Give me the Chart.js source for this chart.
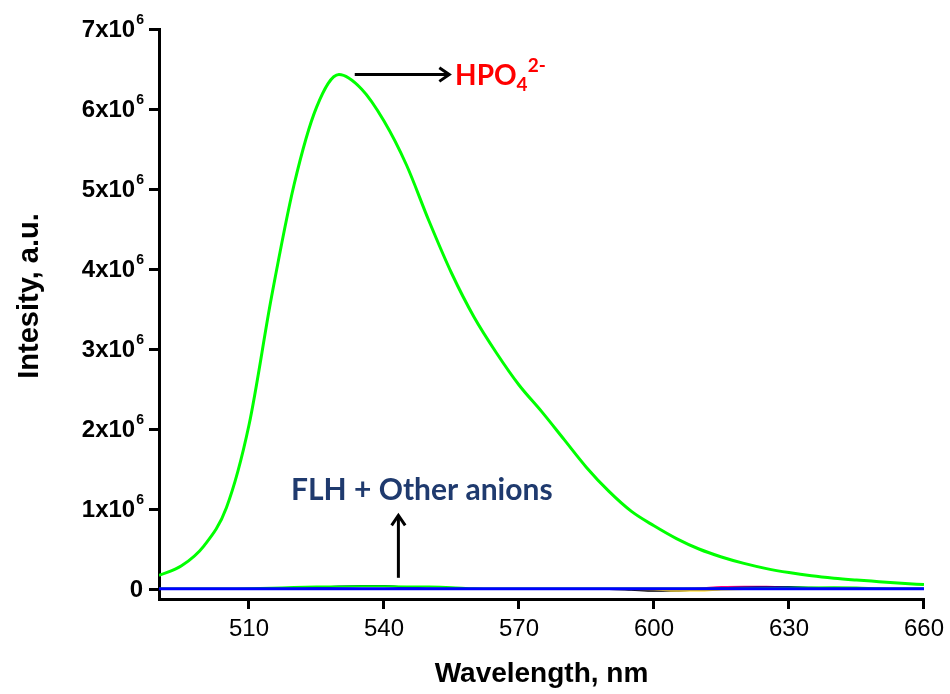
<!DOCTYPE html>
<html><head><meta charset="utf-8">
<script src="https://cdn.jsdelivr.net/npm/chart.js@4.4.1/dist/chart.umd.min.js"></script>
<style>html,body{margin:0;padding:0;background:#fff;}#wrap{width:950px;height:694px;}</style>
</head><body><div id="wrap"><canvas id="c" width="950" height="694"></canvas></div>
<script>
// ---- data (intensity in a.u.) ----
const wavelengths = [490,495,500,505,510,515,520,525,530,535,540,545,550,555,560,565,570,575,580,585,590,595,600,605,610,615,620,625,630,635,640,645,650,655,660];
const hpo4        = [170000,290000,540000,1020000,2050000,3650000,5050000,6020000,6430000,6250000,5850000,5300000,4600000,3950000,3400000,2950000,2550000,2220000,1870000,1520000,1220000,970000,790000,630000,500000,400000,320000,255000,205000,165000,135000,112000,92000,72000,55000];
const anionGreen  = [5000,5000,5000,5000,8000,15000,25000,30000,32000,33000,33000,32000,30000,22000,8000,5000,5000,5000,5000,5000,5000,5000,5000,5000,5000,5000,8000,12000,15000,20000,22000,20000,8000,5000,5000];
const anionNavy   = [0,0,0,0,0,0,5000,15000,30000,38000,36000,20000,5000,0,0,0,0,0,0,0,0,0,0,0,0,12000,20000,22000,25000,15000,5000,0,0,0,0];
const anionPink   = [0,0,0,0,0,0,0,0,0,0,0,0,0,0,0,0,0,0,0,0,0,0,0,0,5000,25000,28000,28000,20000,5000,0,0,0,0,0];
const anionYellow = [0,0,0,0,0,0,0,0,0,0,0,0,0,0,0,0,0,0,0,0,0,0,-5000,-18000,-18000,-5000,0,0,0,0,0,0,0,0,0];
const anionBlack  = [0,0,0,0,0,0,0,0,0,0,0,0,0,0,0,0,0,0,0,0,0,-10000,-22000,-20000,-8000,0,0,0,0,0,0,0,0,0,0];
const anionBlue   = [2000,2000,2000,2000,2000,2000,2000,2000,2000,2000,2000,2000,2000,2000,2000,2000,2000,2000,2000,2000,2000,2000,2000,2000,2000,2000,2000,2000,2000,2000,2000,2000,2000,2000,2000];
const xTickValues = [510,540,570,600,630,660];
const yTickValues = [0,1000000,2000000,3000000,4000000,5000000,6000000,7000000];
const yTickBase   = ['0','1x10','2x10','3x10','4x10','5x10','6x10','7x10'];
const yTickExp    = ['','6','6','6','6','6','6','6'];
const xTitle = 'Wavelength, nm';
const yTitle = 'Intesity, a.u.';

const pts = arr => wavelengths.map((w,i)=>({x:w,y:arr[i]}));
const ds = (label, arr, color, width) => ({label, data:pts(arr), borderColor:color, backgroundColor:color, borderWidth:width, pointRadius:0, cubicInterpolationMode:'monotone', fill:false});

const annot = {
  id:'annot',
  afterDraw(chart){
    const ctx = chart.ctx, xs = chart.scales.x, ys = chart.scales.y, ca = chart.chartArea;
    ctx.save();
    // y tick labels with superscript
    yTickValues.forEach((v,i)=>{
      const y = ys.getPixelForValue(v);
      ctx.font = 'bold 24px "Liberation Sans", Arial, sans-serif';
      const wb = ctx.measureText(yTickBase[i]).width;
      ctx.font = 'bold 14px "Liberation Sans", Arial, sans-serif';
      const we = yTickExp[i] ? ctx.measureText(yTickExp[i]).width : 0;
      const right = ca.left - 16;
      const x0 = right - wb - we;
      ctx.fillStyle = '#000';
      ctx.textBaseline = 'middle';
      ctx.textAlign = 'left';
      ctx.font = 'bold 24px "Liberation Sans", Arial, sans-serif';
      ctx.fillText(yTickBase[i], x0, y + 1);
      if (yTickExp[i]) {
        ctx.font = 'bold 14px "Liberation Sans", Arial, sans-serif';
        ctx.fillText(yTickExp[i], x0 + wb + 1, y - 9);
      }
    });
    // axis titles
    ctx.fillStyle = '#000';
    ctx.font = 'bold 28px "Liberation Sans", Arial, sans-serif';
    ctx.textAlign = 'center';
    ctx.textBaseline = 'alphabetic';
    ctx.fillText(xTitle, (ca.left+ca.right)/2, 682);
    ctx.save();
    ctx.font = 'bold 29px "Liberation Sans", Arial, sans-serif';
    ctx.translate(38, 296);
    ctx.rotate(-Math.PI/2);
    ctx.fillText(yTitle, 0, 0);
    ctx.restore();

    // arrows
    const arrow = (x1,y1,x2,y2) => {
      ctx.strokeStyle = '#000'; ctx.lineWidth = 3; ctx.lineCap = 'butt';
      ctx.beginPath(); ctx.moveTo(x1,y1); ctx.lineTo(x2,y2); ctx.stroke();
      const a = Math.atan2(y2-y1, x2-x1), L = 12;
      ctx.beginPath();
      ctx.moveTo(x2 - L*Math.cos(a-0.6), y2 - L*Math.sin(a-0.6));
      ctx.lineTo(x2, y2);
      ctx.lineTo(x2 - L*Math.cos(a+0.6), y2 - L*Math.sin(a+0.6));
      ctx.lineJoin = 'miter';
      ctx.stroke();
    };
    const yPk = ys.getPixelForValue(6430000);
    arrow(xs.getPixelForValue(533.5), yPk, xs.getPixelForValue(554.5), yPk);
    const xa = xs.getPixelForValue(543.2);
    arrow(xa, ys.getPixelForValue(140000), xa, ys.getPixelForValue(920000));

    // HPO4 2- label
    ctx.fillStyle = '#ff0000';
    ctx.textAlign = 'left';
    ctx.textBaseline = 'alphabetic';
    let tx = xs.getPixelForValue(555.8);
    const by = yPk + 10;
    ctx.font = 'bold 28px Lato, "Open Sans", sans-serif';
    ctx.fillText('HPO', tx, by);
    tx += ctx.measureText('HPO').width;
    ctx.font = 'bold 19px Lato, "Open Sans", sans-serif';
    ctx.fillText('4', tx, by + 6);
    tx += ctx.measureText('4').width;
    ctx.fillText('2-', tx, by - 13);

    // FLH label
    ctx.fillStyle = '#1f3a6e';
    ctx.font = 'bold 30px Lato, "Open Sans", sans-serif';
    ctx.textAlign = 'center';
    ctx.fillText('FLH + Other anions', xs.getPixelForValue(548.4), ys.getPixelForValue(1110000));
    ctx.restore();
  }
};

new Chart(document.getElementById('c'), {
  type:'line',
  data:{ datasets:[
    ds('HPO4 2-', hpo4, '#00ff00', 3),
    ds('Blank', anionBlue, '#0000ff', 3),
    ds('A1', anionGreen, '#00ff00', 2),
    ds('A2', anionNavy, '#000080', 2),
    ds('A3', anionPink, '#ff0080', 2),
    ds('A4', anionYellow, '#ffd700', 2),
    ds('A5', anionBlack, '#000000', 2)
  ]},
  options:{
    responsive:false, animation:false, devicePixelRatio:1,
    layout:{padding:{left:0, top:29, right:26, bottom:0}},
    plugins:{legend:{display:false}, tooltip:{enabled:false}},
    scales:{
      x:{type:'linear', min:490, max:660,
        afterBuildTicks:s=>{s.ticks = xTickValues.map(v=>({value:v}));},
        afterFit:s=>{s.height = 95;},
        border:{display:true, color:'#000', width:3},
        grid:{display:true, drawOnChartArea:false, drawTicks:true, tickLength:10, tickWidth:3, tickColor:'#000', color:'#000', lineWidth:3},
        ticks:{color:'#000', font:{family:'"Liberation Sans", Arial, sans-serif', size:24}, padding:6, maxRotation:0}
      },
      y:{type:'linear', min:-125000, max:7000000,
        afterBuildTicks:s=>{s.ticks = yTickValues.map(v=>({value:v}));},
        afterFit:s=>{s.width = 159;},
        border:{display:true, color:'#000', width:3},
        grid:{display:true, drawOnChartArea:false, drawTicks:true, tickLength:10, tickWidth:3, tickColor:'#000', color:'#000', lineWidth:3},
        ticks:{display:false}
      }
    }
  },
  plugins:[annot]
});
</script></body></html>
